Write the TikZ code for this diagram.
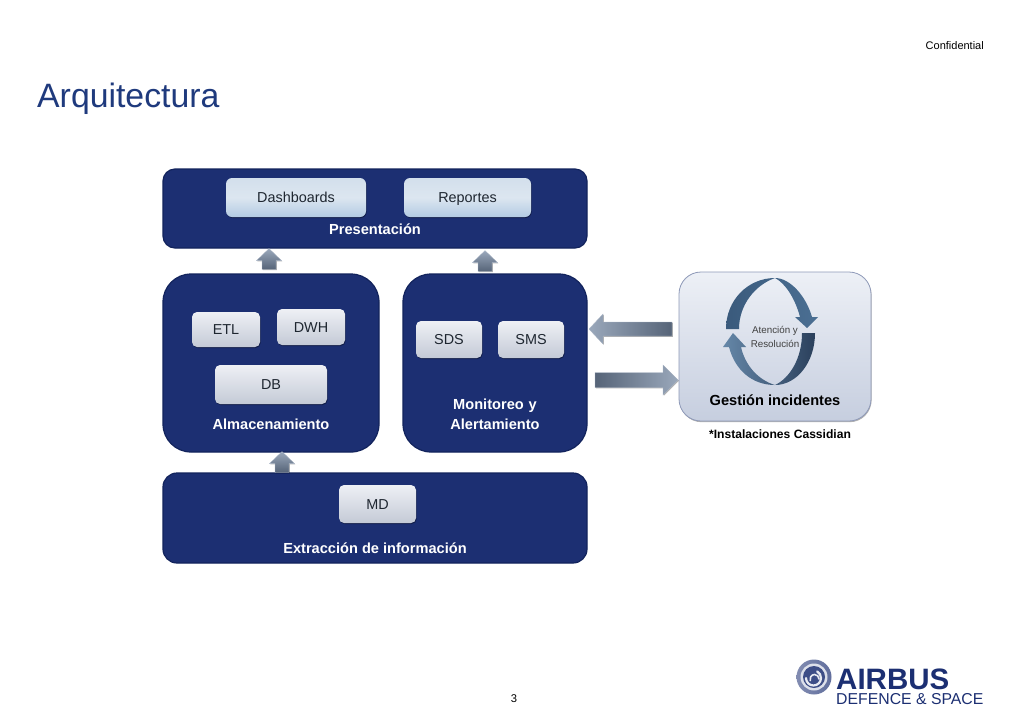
\documentclass[tikz,border=0pt]{standalone}
\usepackage{fontspec}
\setmainfont{Liberation Sans}
\usetikzlibrary{calc,shadows,shadings}
\definecolor{navy}{HTML}{1C2F72}
\definecolor{navyedge}{HTML}{12235C}
\definecolor{titleblue}{HTML}{1F3A7D}
\definecolor{txt}{HTML}{1E2630}
\definecolor{boxt}{HTML}{D3DFEC}
\definecolor{boxm}{HTML}{DCE6F0}
\definecolor{boxb}{HTML}{B3CBE3}
\definecolor{gboxt}{HTML}{EEF0F5}
\definecolor{gboxb}{HTML}{C4CAD6}
\definecolor{gest}{HTML}{EDF0F6}
\definecolor{gesb}{HTML}{C6CEDF}
\definecolor{gese}{HTML}{8E99B8}
\definecolor{arrd}{HTML}{566478}
\definecolor{arrl}{HTML}{9AA8BB}
\definecolor{cyc1}{HTML}{3A5A7C}
\definecolor{cyc2}{HTML}{4B6F93}
\definecolor{cyc3}{HTML}{6587A8}
\definecolor{cyc4}{HTML}{2B405C}
\newcommand{\fsz}[1]{\fontsize{#1}{#1}\selectfont}
\newcommand{\blockarrow}[6]{% from, to, shaft half, head half, head length, options
  \coordinate (hb) at ($(#2)!#5pt!(#1)$);
  \shade[blockarr,#6] ($(#1)!#3pt!90:(#2)$) -- ($(hb)!#3pt!90:(#2)$) -- ($(hb)!#4pt!90:(#2)$) -- (#2)
     -- ($(hb)!#4pt!-90:(#2)$) -- ($(hb)!#3pt!-90:(#2)$) -- ($(#1)!#3pt!-90:(#2)$) -- cycle;
}
\tikzset{
  panel/.style={draw=navyedge,line width=1.2pt,fill=navy,inner sep=0pt},
  bluebox/.style={rounded corners=6pt,draw=none,top color=boxt,bottom color=boxb,middle color=boxm,inner sep=0pt,
     drop shadow={shadow xshift=0.6pt,shadow yshift=-1pt,opacity=.35,fill=black},text=txt,font=\fsz{14.4},text height=10.5pt,text depth=0.5pt},
  graybox/.style={rounded corners=5pt,draw=none,top color=gboxt,bottom color=gboxb,inner sep=0pt,
     drop shadow={shadow xshift=0.6pt,shadow yshift=-1pt,opacity=.35,fill=black},text=txt,font=\fsz{14.4},text height=10.5pt,text depth=0.5pt},
  paneltitle/.style={text=white,font=\fsz{14.6}\bfseries,align=center,inner sep=0pt},
  blockarr/.style={draw=arrl!80!white,line width=.3pt,drop shadow={shadow xshift=0.8pt,shadow yshift=-0.8pt,opacity=.3,fill=black}},
  lbl/.style={inner sep=0pt,text=black},
}
\begin{document}
\begin{tikzpicture}[x=1pt,y=-1pt]
\useasboundingbox[fill=white] (0,0) rectangle (1024,724);
% header
\node[lbl,anchor=base east,font=\fsz{11}] (conf) at (984,49) {Confidential};
\node[lbl,anchor=base west,font=\fsz{33.8},text=titleblue] (title) at (37,107) {Arquitectura};
\node[lbl,font=\fsz{11.2}] (page) at (514,699) {3};
% panels
\node[panel,rounded corners=12pt,minimum width=424pt,minimum height=79pt] (pres) at (375,208.5) {};
\node[panel,rounded corners=28pt,minimum width=216pt,minimum height=178pt] (alm) at (271,363) {};
\node[panel,rounded corners=28pt,minimum width=184pt,minimum height=178pt] (mon) at (495,363) {};
\node[panel,rounded corners=14pt,minimum width=424pt,minimum height=90pt] (ext) at (375,518) {};
\node[rounded corners=22pt,draw=gese,line width=.8pt,top color=gest,bottom color=gesb,
   minimum width=192pt,minimum height=149pt,inner sep=0pt,
   drop shadow={shadow xshift=0.6pt,shadow yshift=-1.2pt,opacity=.3,fill=black}] (ges) at (775,346.5) {};
% inner boxes
\node[bluebox,minimum width=140pt,minimum height=39pt] (dash) at (296,197.5) {Dashboards};
\node[bluebox,minimum width=127pt,minimum height=39pt] (rep) at (467.5,197.5) {Reportes};
\node[graybox,minimum width=68pt,minimum height=35pt] (etl) at (226,329.5) {ETL};
\node[graybox,minimum width=68pt,minimum height=36pt] (dwh) at (311,327) {DWH};
\node[graybox,minimum width=112pt,minimum height=39pt] (db) at (271,384.5) {DB};
\node[graybox,minimum width=66pt,minimum height=37pt] (sds) at (449,339.5) {SDS};
\node[graybox,minimum width=66pt,minimum height=37pt] (sms) at (531,339.5) {SMS};
\node[graybox,minimum width=77pt,minimum height=38pt] (md) at (377.5,504) {MD};
% panel titles
\node[paneltitle] (tpres) at (375,229) {Presentación};
\node[paneltitle] (talm) at (271,424) {Almacenamiento};
\node[paneltitle,text width=120pt,execute at begin node={\baselineskip=20pt}] (tmon) at (495,414) {Monitoreo y\\Alertamiento};
\node[paneltitle] (text) at (375,548) {Extracción de información};
% block arrows
\coordinate (ua) at ($(alm.north)+(-2,-4)$);
\coordinate (ub) at ($(mon.north)+(-10,-2)$);
\coordinate (uc) at ($(ext.north)+(-93,0)$);
\coordinate (ut) at (ua |- pres.south);
\coordinate (vt) at (ub |- pres.south);
\coordinate (wt) at (uc |- alm.south);
\blockarrow{ua}{ut}{7}{12.5}{12}{bottom color=arrd,top color=arrl}
\blockarrow{ub}{$(vt)+(0,2)$}{7}{12.5}{12}{bottom color=arrd,top color=arrl}
\blockarrow{uc}{$(wt)+(0,-1)$}{7}{12.5}{12}{bottom color=arrd,top color=arrl}
\coordinate (la) at (672,329);
\coordinate (lb) at (589,329);
\coordinate (ra) at (595,380);
\coordinate (rb) at (678,380);
\blockarrow{la}{lb}{7}{15}{14}{right color=arrd,left color=arrl}
\blockarrow{ra}{rb}{7.5}{15}{15}{left color=arrd,right color=arrl}
% cycle arrows
\shade[left color=cyc1,right color=cyc2,draw=none]
  (726,329) .. controls (726,300) and (748,278) .. (775,278)
  .. controls (790,278) and (806,296) .. (812,317) -- (818,317) -- (807,328) -- (795,317) -- (800,317)
  .. controls (795,298) and (785,283) .. (775,278) .. controls (755,285) and (739,305) .. (739,329) -- cycle;
\shade[left color=cyc3,right color=cyc4,draw=none]
  (815,333) .. controls (815,362) and (797,385) .. (775,385) .. controls (752,385) and (735,370) .. (729,347)
  -- (723,347) -- (733,333) -- (746,347) -- (741,347)
  .. controls (745,365) and (758,380) .. (775,385) .. controls (790,378) and (802,358) .. (802,333) -- cycle;
\node[lbl,font=\fsz{9.8},text=black!75] (aten) at (775,330.5) {Atención y};
\node[lbl,font=\fsz{9.8},text=black!75] (reso) at (775,343.5) {Resolución};
\node[lbl,font=\fsz{14.6}\bfseries] (tges) at (775,400.5) {Gestión incidentes};
\node[lbl,font=\fsz{12.1}\bfseries] (inst) at (780,434) {*Instalaciones Cassidian};
% logo
\shade[left color=navy!55!white,right color=navy!70!white] (814,677) circle (17.5);
\fill[white!85!navy] (814,677) circle (13.5);
\fill[navy!85!white] (814,677) circle (11);
\draw[line width=2.2pt,white!90!navy,line cap=round] (806,678) arc (180:-60:7.5);
\draw[line width=1.6pt,white!90!navy,line cap=round] (819,679) arc (0:-200:4.5);
\node[lbl,anchor=base west,font=\fsz{29.5}\bfseries,text=navy] (airbus) at (836,689) {AIRBUS};
\node[lbl,anchor=base west,font=\fsz{15.8},text=navy] (ds) at (836,704.5) {DEFENCE \& SPACE};
\end{tikzpicture}
\end{document}
